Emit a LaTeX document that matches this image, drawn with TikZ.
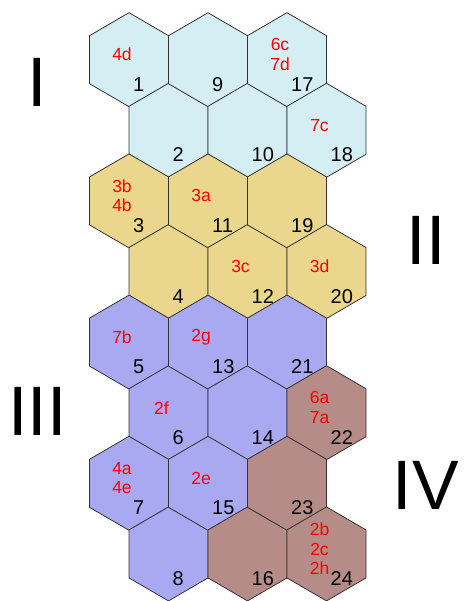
\documentclass[tikz,border=0pt]{standalone}
\usepackage{fontspec}
\setmainfont{Liberation Sans}
\definecolor{hblue}{RGB}{213,238,243}
\definecolor{hyel}{RGB}{234,214,140}
\definecolor{hpur}{RGB}{169,169,242}
\definecolor{hbrn}{RGB}{181,140,136}
\begin{document}
\begin{tikzpicture}[x=1pt,y=-1pt,
  hexcell/.style={draw=black!80, line width=0.8pt, line join=round},
  num/.style={anchor=base west, inner sep=0pt, font=\fontsize{20}{20}\selectfont},
  tag/.style={text=red, inner sep=0pt, align=center, font=\fontsize{17.5}{19.5}\selectfont},
  roman/.style={inner sep=0pt, font=\fontsize{70}{70}\selectfont}]
\useasboundingbox (0,0) rectangle (466,601);
\foreach \n/\c/\r/\col in {1/0/0/hblue,2/0/1/hblue,3/0/2/hyel,4/0/3/hyel,5/0/4/hpur,6/0/5/hpur,7/0/6/hpur,8/0/7/hpur,
  9/1/0/hblue,10/1/1/hblue,11/1/2/hyel,12/1/3/hyel,13/1/4/hpur,14/1/5/hpur,15/1/6/hpur,16/1/7/hbrn,
  17/2/0/hblue,18/2/1/hblue,19/2/2/hyel,20/2/3/hyel,21/2/4/hpur,22/2/5/hbrn,23/2/6/hbrn,24/2/7/hbrn}{
  \pgfmathsetmacro\cx{129+79*\c+39.5*mod(\r,2)}
  \pgfmathsetmacro\cy{59.7+70.6*\r}
  \coordinate (h\n) at (\cx,\cy);
  \filldraw[hexcell, fill=\col] (\cx,\cy-47) -- (\cx+39.5,\cy-24) -- (\cx+39.5,\cy+24) -- (\cx,\cy+47) -- (\cx-39.5,\cy+24) -- (\cx-39.5,\cy-24) -- cycle;
  \node[num] (n\n) at (\cx+4,\cy+31.5) {\n};
}
\foreach \n/\t in {1/{4d},17/{6c\\7d},18/{7c},3/{3b\\4b},11/{3a},12/{3c},20/{3d},5/{7b},13/{2g},6/{2f},22/{6a\\7a},7/{4a\\4e},15/{2e},24/{2b\\2c\\2h}}{
  \node[tag, xshift=-7pt, yshift=5pt] (t\n) at (h\n) {\t};
}
\node[roman] (r1) at (37,82) {I};
\node[roman] (r2) at (426,240) {II};
\node[roman] (r3) at (37.5,411) {III};
\node[roman] (r4) at (426,485) {IV};
\end{tikzpicture}
\end{document}
